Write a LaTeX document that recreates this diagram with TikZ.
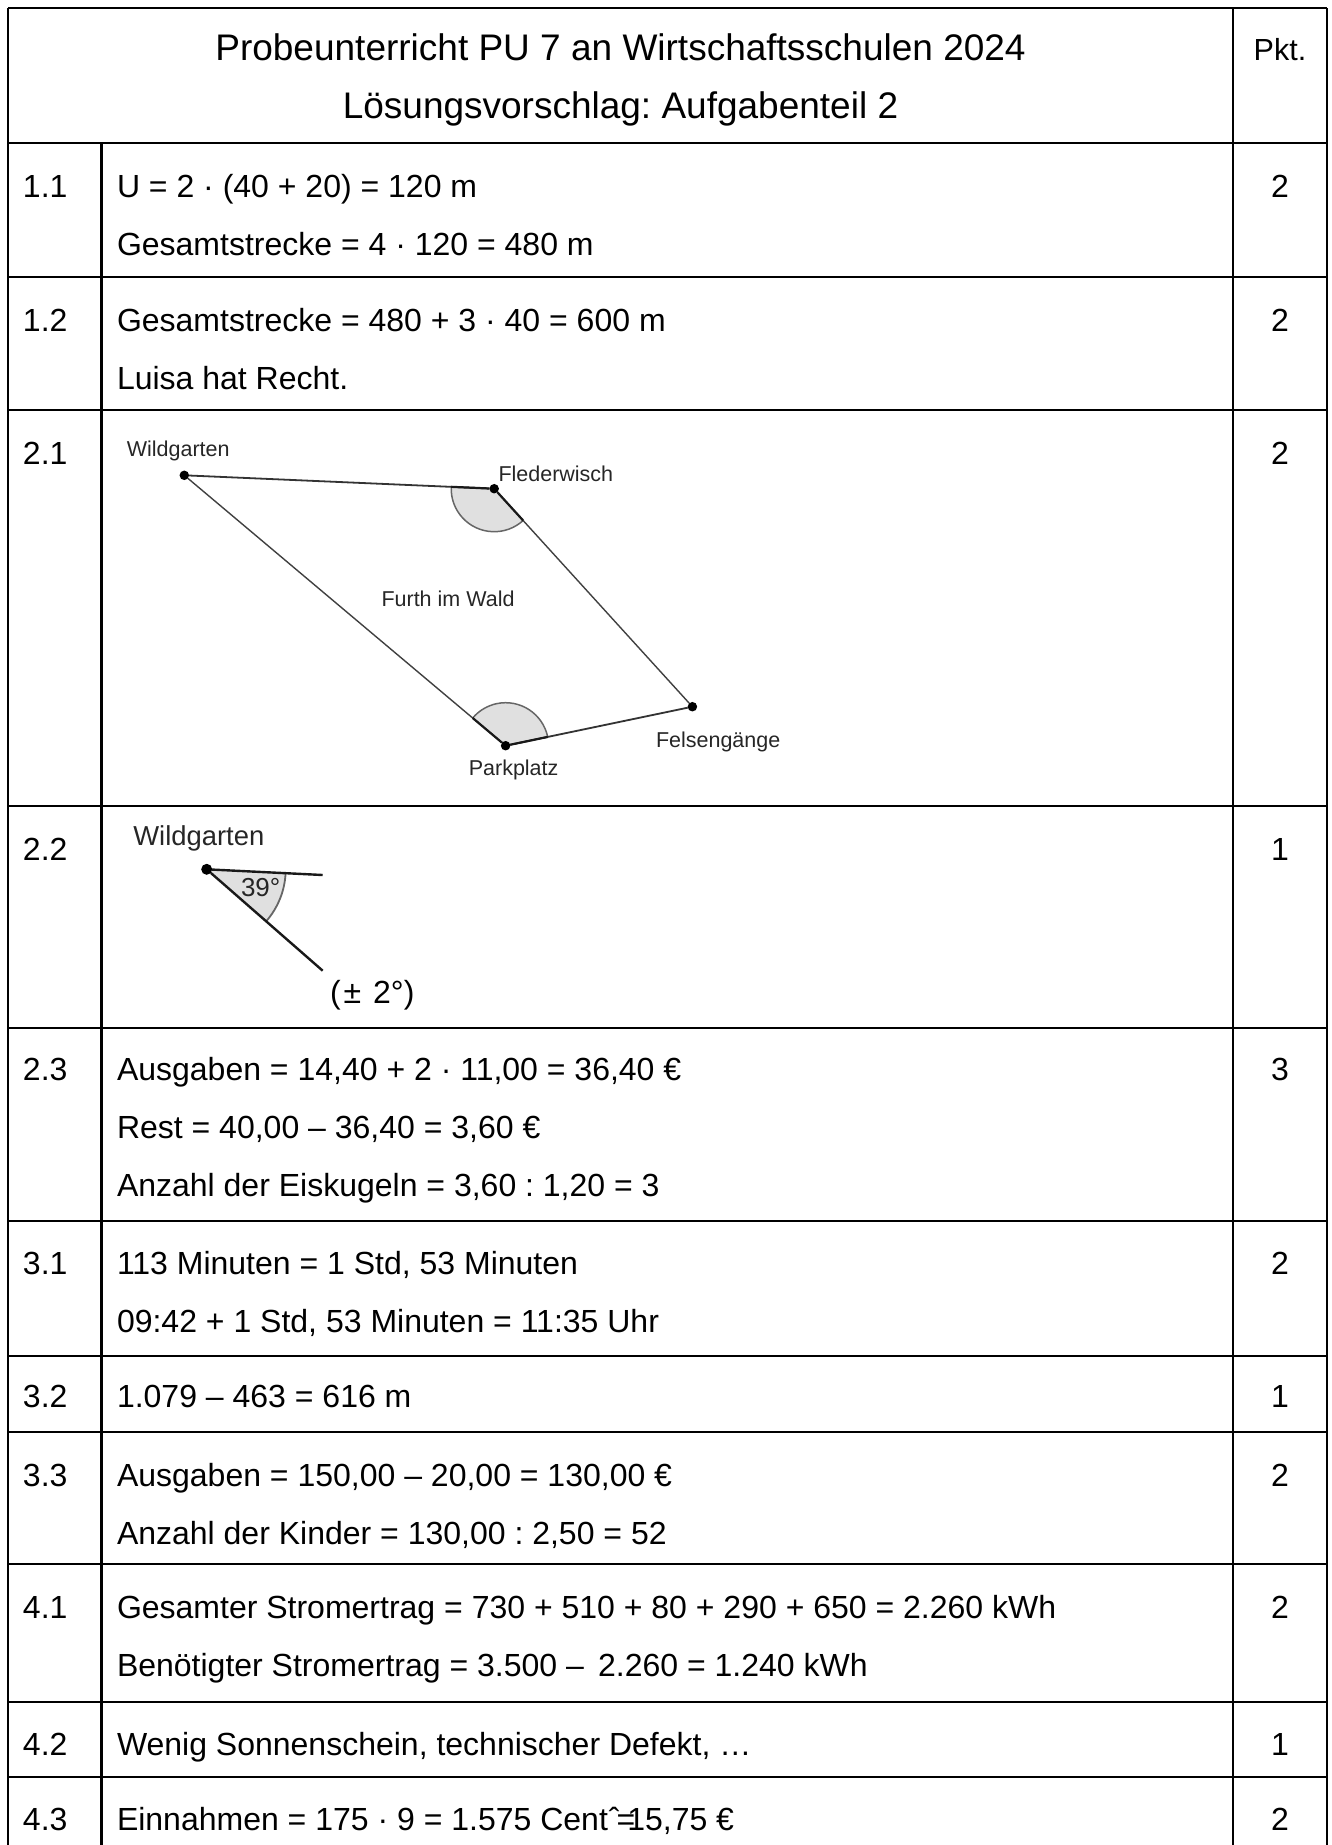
\documentclass[tikz,border=0pt]{standalone}
\usepackage{fontspec}
\setmainfont{Liberation Sans}
\usepackage{tikz}
\usetikzlibrary{positioning,calc}

\begin{document}
\frenchspacing
\begin{tikzpicture}[x=1pt, y=-1pt,
    every node/.append style={font=\fontsize{32}{38}\selectfont, inner sep=0pt, outer sep=0pt},
    gridline/.style={line width=2.3pt},
    rowline/.style={line width=2.8pt},
    cell/.style={anchor=base west},
    pointcell/.style={anchor=base},
    titlecell/.style={anchor=base, font=\fontsize{37}{44}\selectfont},
    place/.style={fill=black, circle, minimum size=9.5pt},
    placesmall/.style={fill=black, circle, minimum size=11pt},
    maplabel/.style={anchor=base west, text=black!85, font=\fontsize{21.5}{26}\selectfont},
    side/.style={line width=1.4pt, draw=black!75},
    sidelong/.style={line width=1.8pt, draw=black!80},
    sideclose/.style={line width=2.2pt, draw=black!90},
    sector/.style={fill=black!12},
    sectorarc/.style={line width=1.5pt, draw=black!60}]
    \useasboundingbox (0,0) rectangle (1331,1845);

    % table
    \draw[gridline] (8,8) -- (8,1845);
    \draw[gridline] (101.5,143) -- (101.5,1845);
    \draw[gridline] (1233,8) -- (1233,1845);
    \draw[gridline] (1327,8) -- (1327,1845);
    \foreach \ypos in {8,143,277,410,806,1028,1221,1356,1432,1564,1702,1777}
      \draw[rowline] (8,\ypos) -- (1327,\ypos);

    % head
    \node (title1) [titlecell] at (620.5,60) {Probeunterricht PU 7 an Wirtschaftsschulen 2024};
    \node (title2) [titlecell] at (620.5,118) {Lösungsvorschlag: Aufgabenteil 2};
    \node (pkt) [pointcell, font=\fontsize{30.5}{36}\selectfont] at (1280,60) {Pkt.};

    % numbers and points
    \foreach \ypos/\num/\pts in {197/1.1/2, 331/1.2/2, 464/2.1/2, 860/2.2/1, 1080/2.3/3, 1274/3.1/2,
        1407/3.2/1, 1486/3.3/2, 1618/4.1/2, 1755/4.2/1, 1830/4.3/2} {
      \node (num\num) [cell] at (23,\ypos) {\num};
      \node (pts\num) [pointcell] at (1280,\ypos) {\pts};
    }

    % solutions
    \node (u) [cell] at (117,197) {U = 2 · (40 + 20) = 120 m};
    \node (strecke) [cell] at (117,255) {Gesamtstrecke = 4 · 120 = 480 m};
    \node (strecketwo) [cell] at (117,331) {Gesamtstrecke = 480 + 3 · 40 = 600 m};
    \node (luisa) [cell] at (117,389) {Luisa hat Recht.};
    \node (ausgaben) [cell] at (117,1080) {Ausgaben = 14,40 + 2 · 11,00 = 36,40 €};
    \node (rest) [cell] at (117,1138) {Rest = 40,00 – 36,40 = 3,60 €};
    \node (eis) [cell] at (117,1196) {Anzahl der Eiskugeln = 3,60 : 1,20 = 3};
    \node (minuten) [cell] at (117,1274) {113 Minuten = 1 Std, 53 Minuten};
    \node (uhr) [cell] at (117,1332) {09:42 + 1 Std, 53 Minuten = 11:35 Uhr};
    \node (hoehe) [cell] at (117,1407) {1.079 – 463 = 616 m};
    \node (ausgabentwo) [cell] at (117,1486) {Ausgaben = 150,00 – 20,00 = 130,00 €};
    \node (kinder) [cell] at (117,1544) {Anzahl der Kinder = 130,00 : 2,50 = 52};
    \node (ertrag) [cell] at (117,1618) {Gesamter Stromertrag = 730 + 510 + 80 + 290 + 650 = 2.260 kWh};
    \node (bedarf) [cell] at (117,1676) {Benötigter Stromertrag = 3.500 – \,2.260 = 1.240 kWh};
    \node (defekt) [cell] at (117,1755) {Wenig Sonnenschein, technischer Defekt, …};
    \node (einnahmen) [cell] at (117,1830) {Einnahmen = 175 · 9 = 1.575 Cent\kern1pt ˆ\kern-3pt =\kern-8pt 15,75 €};

    % 2.1 map
    \fill[sector] (494.2,488.7) -- ++(177.5:43pt) arc (177.5:312.3:43pt) -- cycle;
    \fill[sector] (505.6,745.7) -- ++(11.8:43pt) arc (11.8:139.9:43pt) -- cycle;
    \draw[sectorarc] (494.2,488.7) ++(177.5:43pt) arc (177.5:312.3:43pt);
    \draw[sectorarc] (505.6,745.7) ++(11.8:43pt) arc (11.8:139.9:43pt);
    \node (wild) [place] at (184.3,475.3) {};
    \node (fleder) [place] at (494.2,488.7) {};
    \node (fels) [place] at (692.4,706.7) {};
    \node (park) [place] at (505.6,745.7) {};
    \draw[sidelong] (wild) -- (fleder);
    \draw[side] (fleder) -- (fels);
    \draw[sidelong] (fels) -- (park);
    \draw[side] (park) -- (wild);
    \draw[sideclose] (fleder) -- ++(177.5:43pt);
    \draw[sideclose] (fleder) -- ++(-47.7:43pt);
    \draw[sideclose] (park) -- ++(11.8:43pt);
    \draw[sideclose] (park) -- ++(139.9:43pt);
    \node (wildtext) [maplabel] at (126.8,456) {Wildgarten};
    \node (fledertext) [maplabel] at (498.5,481) {Flederwisch};
    \node (furth) [maplabel] at (381.5,606) {Furth im Wald};
    \node (felstext) [maplabel] at (656,747.3) {Felsengänge};
    \node (parktext) [maplabel] at (468.8,775) {Parkplatz};

    % 2.2 angle
    \coordinate (rayone) at (322.7,875);
    \coordinate (raytwo) at (322.7,970.7);
    \fill[sector] (206.7,869.3) -- ++(-41.2:79pt) arc (-41.2:-2.8:79pt) -- cycle;
    \draw[sectorarc, line width=1.8pt] (206.7,869.3) ++(-41.2:79pt) arc (-41.2:-2.8:79pt);
    \node (wildtwo) [placesmall] at (206.7,869.3) {};
    \draw[line width=2.4pt, black!90] (wildtwo) -- (rayone);
    \draw[line width=2.4pt, black!90] (wildtwo) -- (raytwo);
    \node (wildtwotext) [anchor=base west, text=black!85, font=\fontsize{27.4}{32}\selectfont] at (133.3,845) {Wildgarten};
    \node (degree) [anchor=base west, text=black!85, font=\fontsize{26}{30}\selectfont] at (241,896) {39°};
    \node (tolerance) [cell] at (330,1003.3) {(\kern3pt±\kern12pt 2°)};
\end{tikzpicture}
\end{document}
